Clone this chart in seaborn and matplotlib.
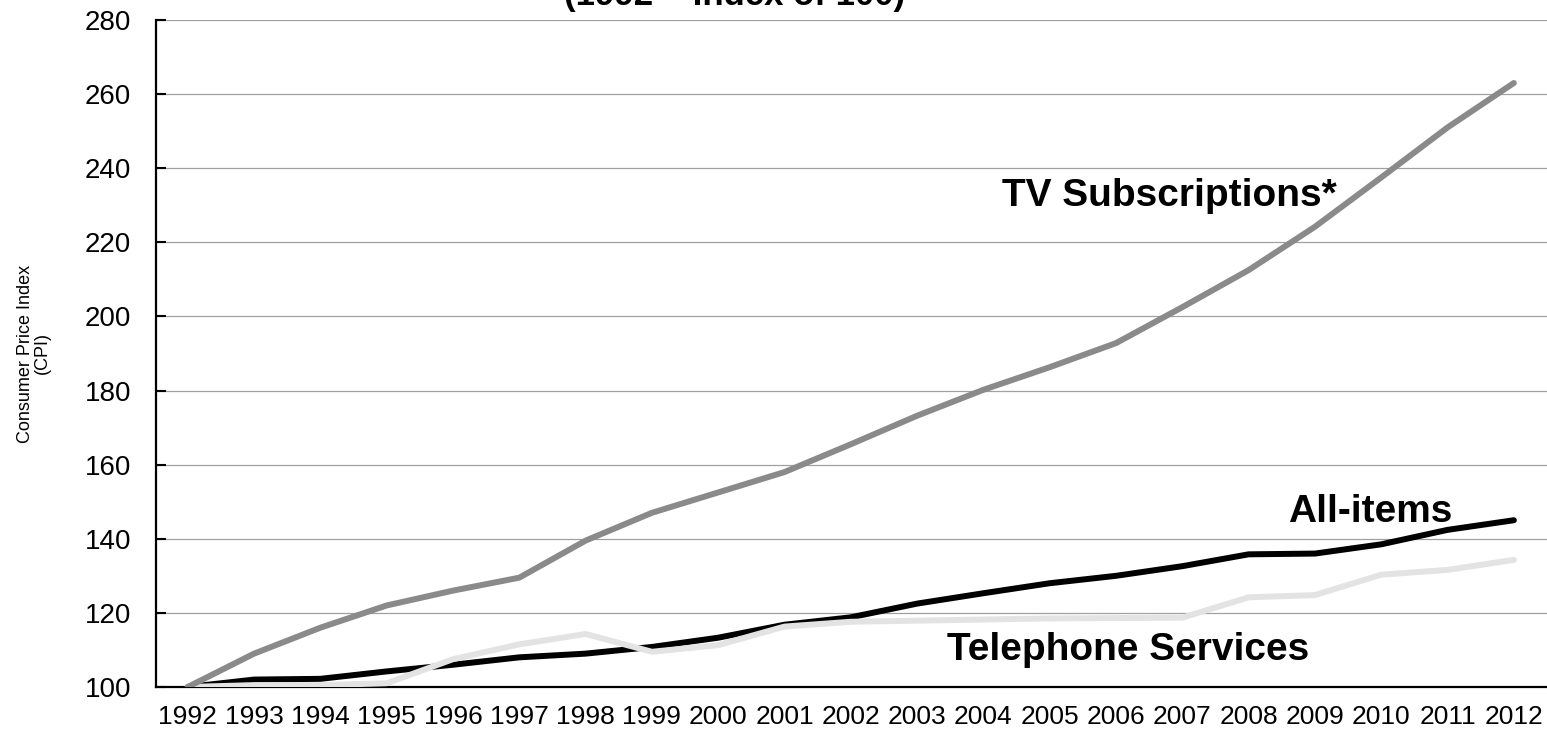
import matplotlib
matplotlib.use("Agg")
import matplotlib.pyplot as plt
import seaborn as sns
import pandas as pd

years = list(range(1992, 2013))
tv_subscriptions = [100, 109, 116, 122, 126, 129.5, 139.5, 147, 152.5, 158, 165.5,
                    173.2, 180.2, 186.3, 192.8, 202.5, 212.5, 224.2, 237.5, 251, 263]
all_items = [100, 102, 102.2, 104.2, 106, 108, 109, 110.8, 113.3, 116.8, 118.8,
             122.5, 125.3, 128, 130, 132.6, 135.8, 136, 138.5, 142.4, 145]
telephone = [100, 100.5, 100.5, 101, 107.5, 111.5, 114.3, 109.5, 111.3, 116.3, 117.6,
             117.9, 118.2, 118.5, 118.6, 118.7, 124.2, 124.8, 130.3, 131.6, 134.3]
y_ticks = list(range(100, 281, 20))

sns.set_theme(style="white")
plt.rcParams['font.family'] = ['Liberation Sans', 'DejaVu Sans']
plt.rcParams['text.color'] = 'black'
plt.rcParams['axes.labelcolor'] = 'black'
plt.rcParams['xtick.color'] = 'black'
plt.rcParams['ytick.color'] = 'black'

fig = plt.figure(figsize=(15.47, 7.32), dpi=100)
ax = fig.add_axes([0.1008, 0.0615, 0.8992, 0.9112])

df = pd.DataFrame({"year": years, "tv": tv_subscriptions,
                   "all": all_items, "tel": telephone})

ax.yaxis.grid(True, color="#a0a0a0", linewidth=0.9)
ax.set_axisbelow(True)

sns.lineplot(data=df, x="year", y="all", ax=ax, color="black", linewidth=4.3,
             solid_capstyle="round", solid_joinstyle="round", zorder=3)
sns.lineplot(data=df, x="year", y="tel", ax=ax, color="#e3e3e3", linewidth=4.3,
             solid_capstyle="round", solid_joinstyle="round", zorder=4)
sns.lineplot(data=df, x="year", y="tv", ax=ax, color="#8a8a8a", linewidth=4.3,
             solid_capstyle="round", solid_joinstyle="round", zorder=5)

ax.set_xlim(1991.52, 2012.5)
ax.set_ylim(100, 280)
ax.set_yticks(y_ticks)
ax.set_xticks(years)
ax.set_xticklabels([str(y) for y in years], fontsize=19)
ax.set_yticklabels([str(v) for v in y_ticks], fontsize=20)
ax.tick_params(axis="y", direction="in", length=7, width=1.5, color="black",
               left=True, pad=18)
ax.tick_params(axis="x", length=0, pad=13)

for s in ["top", "right"]:
    ax.spines[s].set_visible(False)
for s in ["left", "bottom"]:
    ax.spines[s].set_color("black")
    ax.spines[s].set_linewidth(1.6)

ax.set_xlabel("")
ax.set_ylabel("Consumer Price Index\n(CPI)", fontsize=13, linespacing=1.0,
              va="center", ha="center")
ax.yaxis.set_label_coords(-0.088, 0.5)

ax.text(2006.81, 232.5, "TV Subscriptions*", fontsize=28, fontweight="bold",
        ha="center", va="center")
ax.text(2009.84, 147.2, "All-items", fontsize=28, fontweight="bold",
        ha="center", va="center")
ax.text(2006.19, 110, "Telephone Services", fontsize=28, fontweight="bold",
        ha="center", va="center")

fig.text(735 / 1547, 1.0 + 4 / 732, "(1992 = Index of 100)", fontsize=25,
         fontweight="bold", ha="center", va="center")

fig.savefig("out.png", dpi=100)
